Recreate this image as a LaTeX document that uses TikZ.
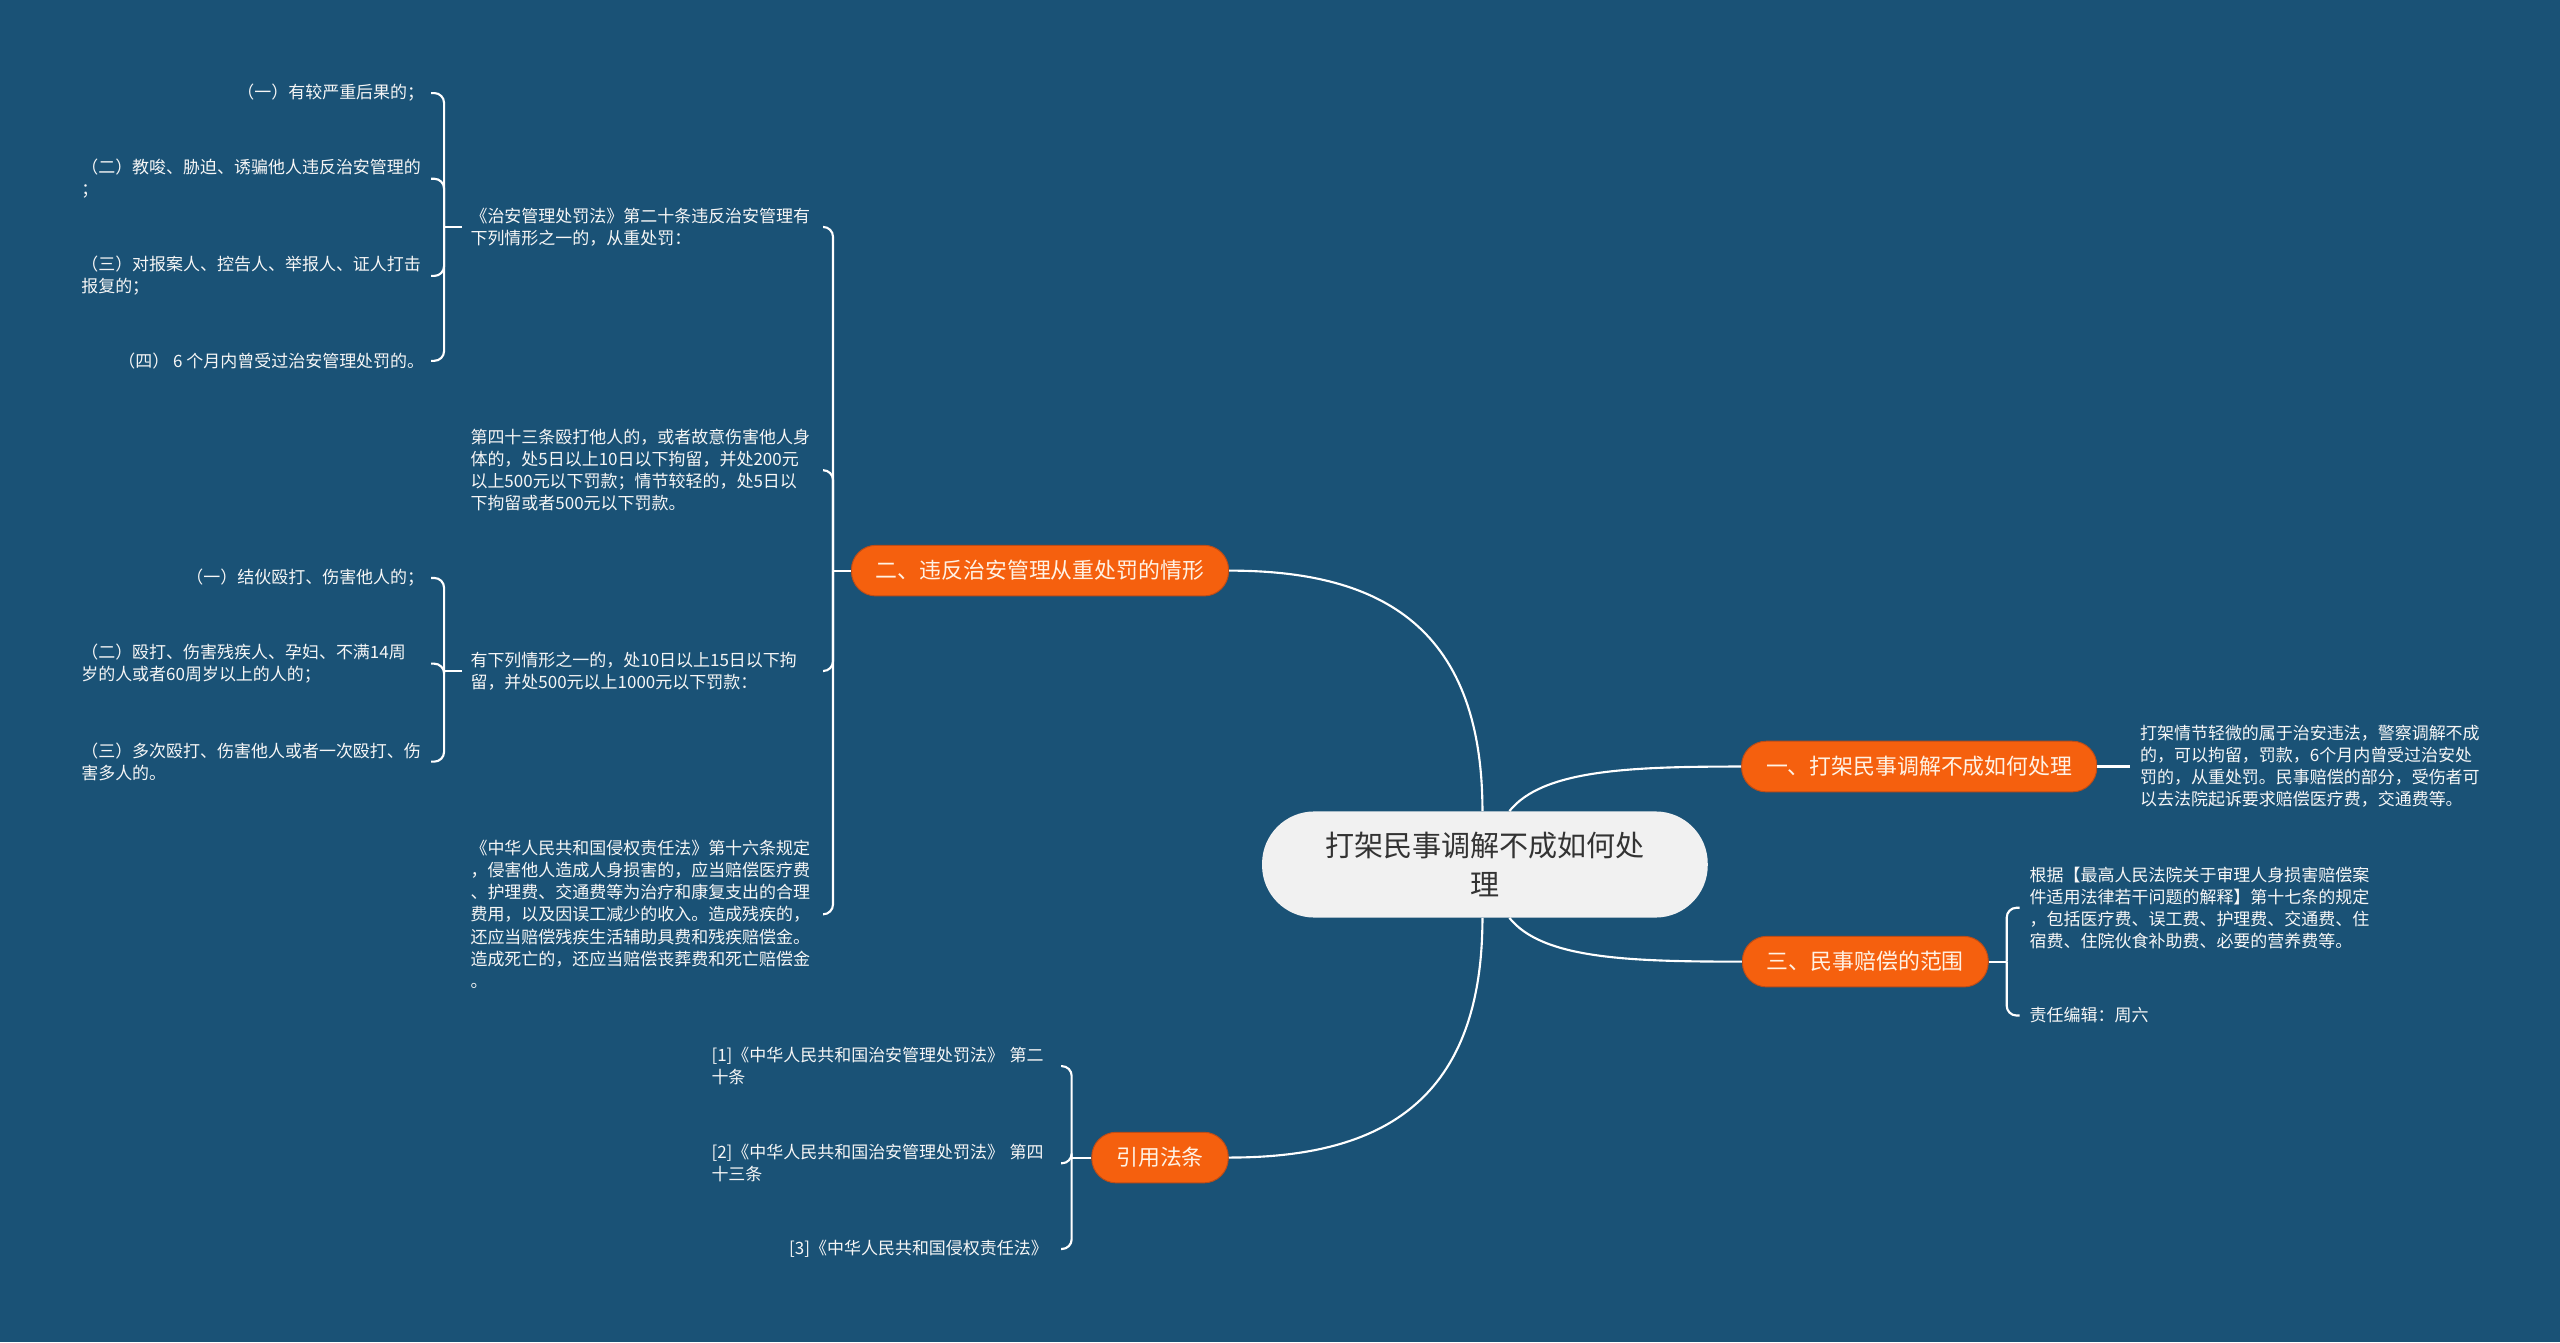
\documentclass[tikz,border=0pt]{standalone}
\usepackage{fontspec}
\setmainfont{Noto Sans CJK SC}
\usetikzlibrary{positioning}
\definecolor{bgblue}{RGB}{26,82,118}
\definecolor{topicorange}{RGB}{245,96,14}
\definecolor{topicedge}{RGB}{190,76,22}
\definecolor{topictext}{RGB}{255,242,228}
\definecolor{rootgray}{RGB}{241,241,241}
\definecolor{leafwhite}{RGB}{246,246,246}
\tikzstyle{link} = [white, line width=1.3pt]
\tikzstyle{bracket} = [link, rounded corners=6pt]
\tikzstyle{rootbox} = [rectangle, rounded corners=32pt, minimum width=273pt, minimum height=65pt, fill=rootgray, text=black!80, align=center, font=\fontsize{17.8}{24}\selectfont]
\tikzstyle{topicbox} = [rectangle, rounded corners=15pt, minimum height=31pt, inner xsep=15pt, fill=topicorange, draw=topicedge, line width=0.6pt, text=topictext, font=\fontsize{13.4}{16}\selectfont]
\tikzstyle{leafbox} = [inner sep=0pt, align=left, text=leafwhite, font=\fontsize{10.4}{13.5}\selectfont]
\tikzstyle{parabox} = [leafbox, text width=210pt]

\begin{document}
\begin{tikzpicture}[x=1pt, y=-1pt]

\fill [bgblue] (0,0) rectangle (1568,822);
\useasboundingbox (0,0) rectangle (1568,822);

% Topics
\node (root) [rootbox] at (909.5,529.5) {打架民事调解不成如何处\\理};
\node (one) [topicbox] at (1175.5,469.5) {一、打架民事调解不成如何处理};
\node (two) [topicbox] at (637,349.5) {二、违反治安管理从重处罚的情形};
\node (three) [topicbox] at (1142.5,589) {三、民事赔偿的范围};
\node (cite) [topicbox] at (710.5,709) {引用法条};

% Branch two
\node (l1) [parabox, anchor=west] at (288,139) {《治安管理处罚法》第二十条违反治安管理有\\下列情形之一的，从重处罚：};
\node (l2) [parabox, anchor=west] at (288,288) {第四十三条殴打他人的，或者故意伤害他人身\\体的，处5日以上10日以下拘留，并处200元\\以上500元以下罚款；情节较轻的，处5日以\\下拘留或者500元以下罚款。};
\node (l3) [parabox, anchor=west] at (288,411) {有下列情形之一的，处10日以上15日以下拘\\留，并处500元以上1000元以下罚款：};
\node (l4) [parabox, anchor=west] at (288,560) {《中华人民共和国侵权责任法》第十六条规定\\，侵害他人造成人身损害的，应当赔偿医疗费\\、护理费、交通费等为治疗和康复支出的合理\\费用，以及因误工减少的收入。造成残疾的，\\还应当赔偿残疾生活辅助具费和残疾赔偿金。\\造成死亡的，还应当赔偿丧葬费和死亡赔偿金\\。};

\node (a1) [leafbox, anchor=east] at (260,57) {（一）有较严重后果的；};
\node (a2) [parabox, anchor=east] at (260,109.5) {（二）教唆、胁迫、诱骗他人违反治安管理的\\；};
\node (a3) [parabox, anchor=east] at (260,169) {（三）对报案人、控告人、举报人、证人打击\\报复的；};
\node (a4) [leafbox, anchor=east] at (260,221) {（四） 6 个月内曾受过治安管理处罚的。};

\node (b1) [leafbox, anchor=east] at (260,354) {（一）结伙殴打、伤害他人的；};
\node (b2) [parabox, anchor=east] at (260,406.5) {（二）殴打、伤害残疾人、孕妇、不满14周\\岁的人或者60周岁以上的人的；};
\node (b3) [parabox, anchor=east] at (260,466.5) {（三）多次殴打、伤害他人或者一次殴打、伤\\害多人的。};

% Branch one and three
\node (y1) [parabox, right=26pt of one] {打架情节轻微的属于治安违法，警察调解不成\\的，可以拘留，罚款，6个月内曾受过治安处\\罚的，从重处罚。民事赔偿的部分，受伤者可\\以去法院起诉要求赔偿医疗费，交通费等。};
\node (s1) [parabox, anchor=west] at (1243,556) {根据【最高人民法院关于审理人身损害赔偿案\\件适用法律若干问题的解释】第十七条的规定\\，包括医疗费、误工费、护理费、交通费、住\\宿费、住院伙食补助费、必要的营养费等。};
\node (s2) [leafbox, anchor=west] at (1243,622) {责任编辑：周六};

% Citations
\node (r1) [parabox, text width=206pt, anchor=east] at (642,653) {[1]《中华人民共和国治安管理处罚法》 第二\\十条};
\node (r2) [parabox, text width=206pt, anchor=east] at (642,712.5) {[2]《中华人民共和国治安管理处罚法》 第四\\十三条};
\node (r3) [leafbox, anchor=east] at (642,765) {[3]《中华人民共和国侵权责任法》};

% Main branches
\draw [link] ([xshift=-1.5pt]root.north) .. controls +(0,-117) and +(88,0) .. (two.east);
\draw [link] ([xshift=-1.5pt]root.south) .. controls +(0,117) and +(88,0) .. (cite.east);
\draw [link] ([xshift=15pt]root.north) .. controls +(20,-25) and +(-70,0) .. (one.west);
\draw [link] ([xshift=15pt]root.south) .. controls +(20,25) and +(-70,0) .. (three.west);

% Brackets
\draw [link] (two.west) -- ++(-11,0) coordinate (twoj);
\draw [bracket] (twoj) |- ([xshift=6pt]l1.east);
\draw [bracket] (twoj) |- ([xshift=6pt]l2.east);
\draw [bracket] (twoj) |- ([xshift=6pt]l3.east);
\draw [bracket] (twoj) |- ([xshift=6pt]l4.east);

\draw [link] ([xshift=-5pt]l1.west) -- ++(-11,0) coordinate (l1j);
\draw [bracket] (l1j) |- ([xshift=4pt]a1.east);
\draw [bracket] (l1j) |- ([xshift=4pt]a2.east);
\draw [bracket] (l1j) |- ([xshift=4pt]a3.east);
\draw [bracket] (l1j) |- ([xshift=4pt]a4.east);

\draw [link] ([xshift=-5pt]l3.west) -- ++(-11,0) coordinate (l3j);
\draw [bracket] (l3j) |- ([xshift=4pt]b1.east);
\draw [bracket] (l3j) |- ([xshift=4pt]b2.east);
\draw [bracket] (l3j) |- ([xshift=4pt]b3.east);

\draw [link] (cite.west) -- ++(-12,0) coordinate (citej);
\draw [bracket] (citej) |- ([xshift=8pt]r1.east);
\draw [bracket] (citej) |- ([xshift=8pt]r2.east);
\draw [bracket] (citej) |- ([xshift=8pt]r3.east);

\draw [link] (one.east) -- ([xshift=-6pt]y1.west);

\draw [link] (three.east) -- ++(11,0) coordinate (threej);
\draw [bracket] (threej) |- ([xshift=-6pt]s1.west);
\draw [bracket] (threej) |- ([xshift=-6pt]s2.west);

\end{tikzpicture}
\end{document}
